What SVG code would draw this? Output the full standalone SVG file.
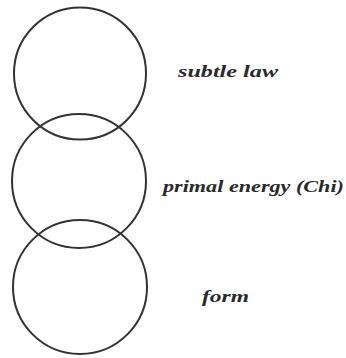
<svg xmlns="http://www.w3.org/2000/svg" width="346" height="358" viewBox="0 0 346 358">
<style>
.c{fill:none;stroke:#333;stroke-width:2}
.t{font-family:"Liberation Serif",serif;font-style:italic;font-weight:bold;font-size:17px;fill:#2a2a2a}
</style>
<rect width="346" height="358" fill="#fff"/>
<g id="n-subtle"><circle class="c" cx="80" cy="73.5" r="66"/><text class="t" x="178" y="77" textLength="100" lengthAdjust="spacingAndGlyphs">subtle law</text></g>
<g id="n-primal"><circle class="c" cx="79" cy="181" r="67"/><text class="t" x="163" y="192" textLength="181" lengthAdjust="spacingAndGlyphs">primal energy (Chi)</text></g>
<g id="n-form"><circle class="c" cx="80" cy="287" r="67"/><text class="t" x="202" y="302" textLength="47" lengthAdjust="spacingAndGlyphs">form</text></g>
<g id="connectors"></g>
</svg>
